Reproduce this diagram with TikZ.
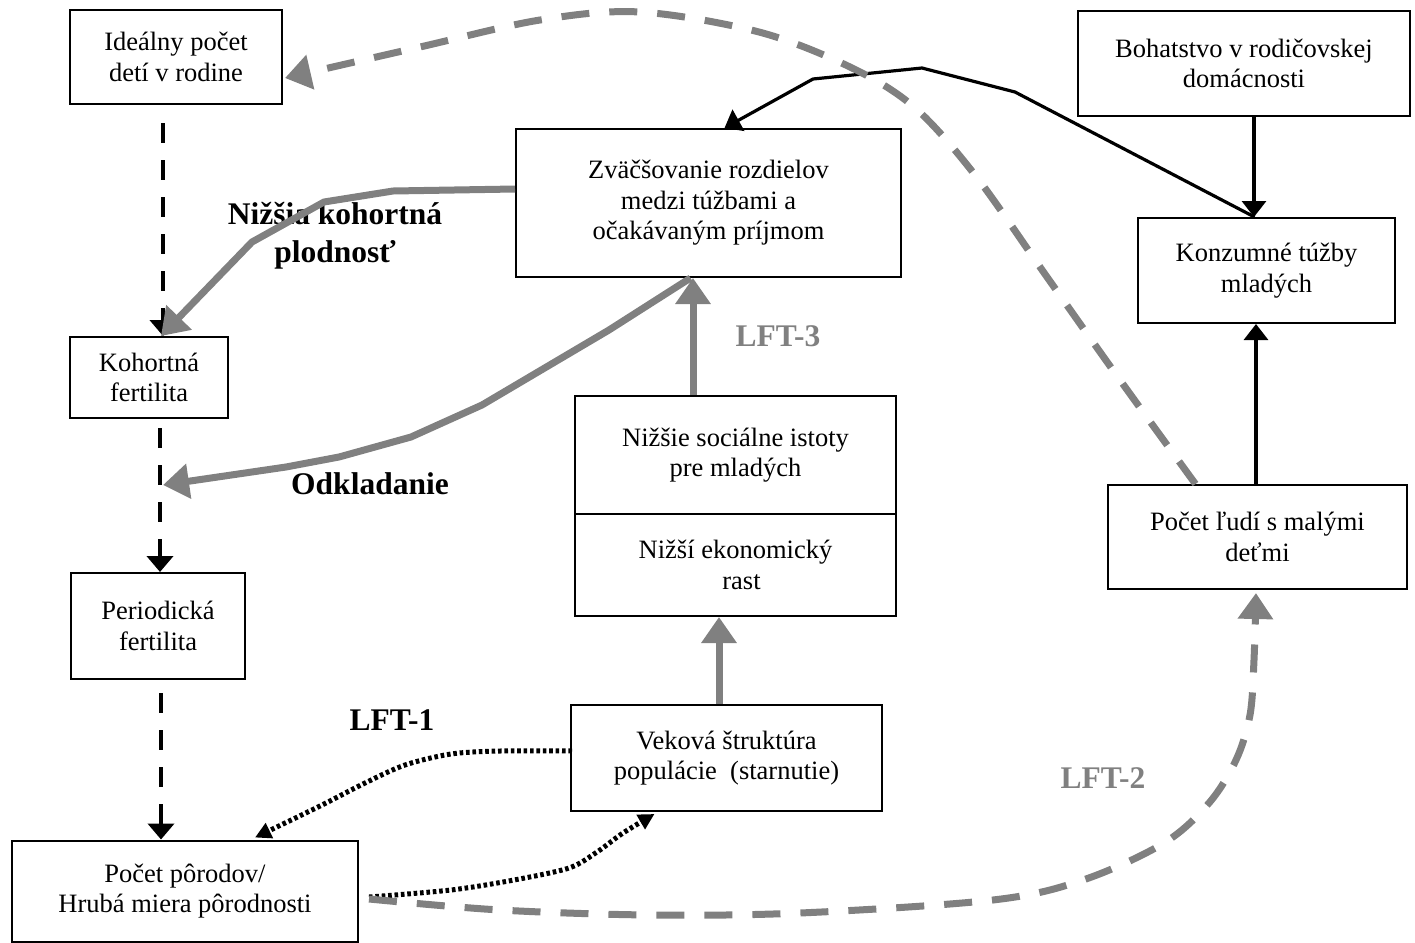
\documentclass[tikz,border=0pt]{standalone}
\usepackage{fontspec}
\setmainfont{Liberation Serif}
\usetikzlibrary{arrows.meta,calc}
\definecolor{grayA}{HTML}{808080}
\begin{document}
\begin{tikzpicture}[x=0.5pt,y=-0.5pt,
  box/.style={draw,line width=1pt,inner sep=0pt,align=center,font=\fontsize{13.25}{15.25}\selectfont},
  lbl/.style={inner sep=0pt,align=center,font=\fontsize{15.75}{19}\selectfont\bfseries},
  garrow/.style={draw=grayA,line width=3.5pt,line join=round,-{Triangle[length=13pt,width=17pt]}},
  gdash/.style={draw=grayA,line width=3.5pt,dash pattern=on 14pt off 10pt,-{Triangle[length=13pt,width=17pt]}},
  bdash/.style={draw=black,line width=2pt,dash pattern=on 10pt off 8.5pt,-{Triangle[length=8pt,width=13pt]}},
  barrow/.style={draw=black,line width=1.6pt,line join=round,-{Triangle[length=8pt,width=12pt]}},
  bdot/.style={draw=black,line width=2.5pt,dash pattern=on 1.8pt off 1.4pt,-{Triangle[length=8pt,width=8pt]}}
]
\useasboundingbox (0,0) rectangle (1415,943);

% boxes
\node[box,minimum width=106pt,minimum height=47pt] (ideal) at (176,57) {Ideálny počet\\detí v rodine};
\node[box,minimum width=192.5pt,minimum height=74pt] (zvac) at (708.5,203) {Zväčšovanie rozdielov\\medzi túžbami a\\očakávaným príjmom};
\node[box,minimum width=166pt,minimum height=52.5pt] (boh) at (1244,63.5) {Bohatstvo v rodičovskej\\domácnosti};
\node[box,minimum width=128.5pt,minimum height=52.5pt] (konz) at (1266.5,270.5) {Konzumné túžby\\mladých};
\node[box,minimum width=79pt,minimum height=40.5pt] (koh) at (149,377.5) {Kohortná\\fertilita};
\node[box,minimum width=87pt,minimum height=53pt] (per) at (158,626) {Periodická\\fertilita};
\node[box,minimum width=173pt,minimum height=50.5pt] (poc) at (185,891) {Počet pôrodov/\\Hrubá miera pôrodnosti};
\node[box,minimum width=160.5pt,minimum height=59pt] (nizsie) at (735.5,455) {Nižšie sociálne istoty\\pre mladých};
\node[box,minimum width=160.5pt,minimum height=51pt] (nizsi) at (735.5,565) {Nižší ekonomický\\\hspace{6pt}rast};
\node[box,minimum width=155.5pt,minimum height=53pt] (vek) at (726.5,758) {Veková štruktúra\\populácie\ \ (starnutie)};
\node[box,minimum width=149.5pt,minimum height=52pt] (ludi) at (1257.5,537) {Počet ľudí s malými\\deťmi};

% labels
\node[lbl] (l1) at (335,236) {Nižšia kohortná\\plodnosť};
\node[lbl] (odkl) at (370,484) {Odkladanie};
\node[lbl] (lft1) at (392,720) {LFT-1};
\node[lbl,text=grayA] (lft2) at (1103,778) {LFT-2};
\node[lbl,text=grayA] (lft3) at (778,336) {LFT-3};

% black dashed chain
\draw[bdash] ($(ideal.south)+(-13,18)$) -- ($(koh.north)+(14,0)$);
\draw[bdash] ($(koh.south)+(11,9)$) -- ($(per.north)+(2,0)$);
\draw[bdash] ($(per.south)+(3,13)$) -- ($(poc.north)+(-24,0)$);

% black solid
\draw[barrow] ($(boh.south)+(10,0)$) coordinate (b1) -- (b1 |- konz.north);
\draw[barrow] ($(ludi.north)+(-1.5,0)$) coordinate (b2) -- (b2 |- konz.south);
\draw[barrow] ($(konz.north)+(-12,0)$) -- (1015,92) -- (922,68) -- (813,79) -- ($(zvac.north)+(16,0)$);

% grey solid
\draw[garrow] ($(zvac.west)+(0,-14)$) -- (393,191) -- (324,202) -- (252,242) -- ($(koh.north)+(12,0)$);
\coordinate (odk) at (163,485);
\draw[garrow] ($(zvac.south)+(-18,0)$) -- (609,330) -- (482,405) -- (411,437) -- (339,457) -- (286,467) -- (odk);
\draw[garrow] ($(nizsie.north)+(-42.5,0)$) coordinate (g9) -- (g9 |- zvac.south);
\draw[garrow] ($(vek.north)+(-7.5,0)$) coordinate (g10) -- (g10 |- nizsi.south);

% dotted
\coordinate (d1) at ($(vek.west)+(2,-7)$);
\coordinate (d1e) at ($(poc.north)+(70,-2)$);
\draw[bdot] plot[smooth,tension=0.5] coordinates {(d1) (500,751) (451,754) (405,765) (365,783) (320,806) (d1e)};
\coordinate (d2) at ($(poc.east)+(10,6)$);
\coordinate (d2e) at ($(vek.south)+(-72,2)$);
\draw[bdot] plot[smooth,tension=0.5] coordinates {(d2) (451,890) (514,880) (569,868) (597,852) (623,833) (d2e)};

% grey dashed
\coordinate (s2) at ($(poc.east)+(10,8)$);
\coordinate (e2) at ($(ludi.south)+(-1.5,3)$);
\draw[gdash] plot[smooth,tension=0.55] coordinates {(s2) (500,910) (650,915) (800,913) (993,900) (1083,880) (1164,843) (1209,803) (1236,760) (1250,715) (1254,660) (e2)};
\coordinate (s1) at ($(ludi.north)+(-62,0)$);
\coordinate (e1) at ($(ideal.east)+(2,21)$);
\draw[gdash] plot[smooth,tension=0.55] coordinates {(s1) (1120,380) (1047,277) (975,175) (914,107) (850,67) (759,32) (640,12) (540,20) (420,47) (e1)};
\end{tikzpicture}
\end{document}
